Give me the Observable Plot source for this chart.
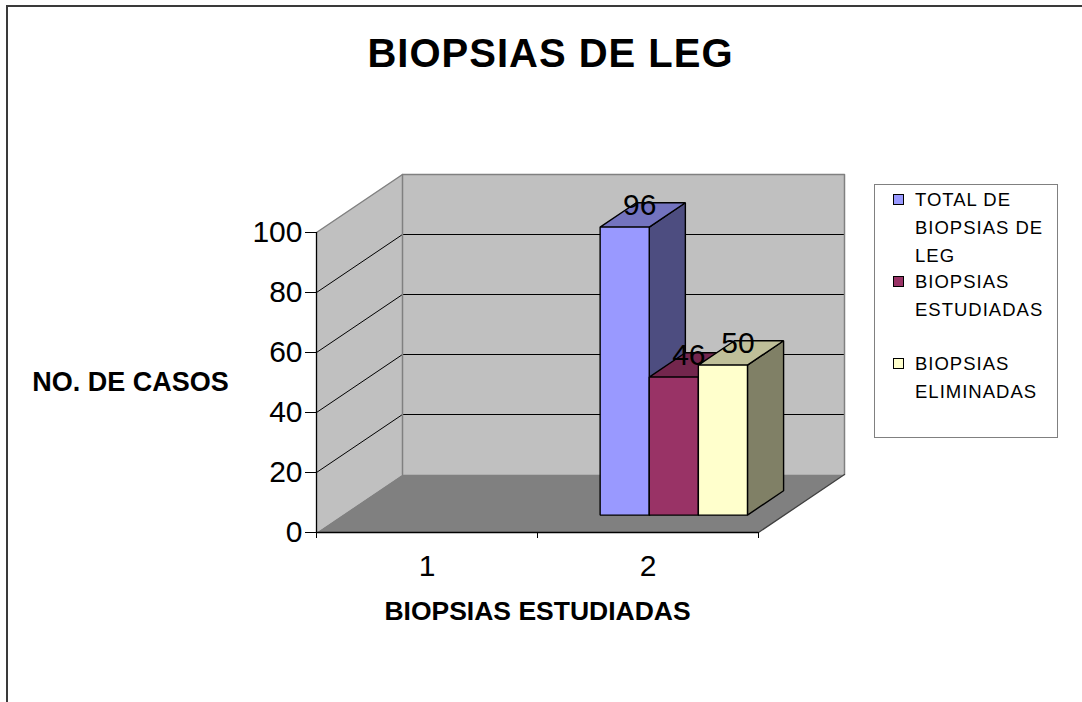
<!DOCTYPE html>
<html>
<head>
<meta charset="utf-8">
<script src="https://cdn.jsdelivr.net/npm/d3@7"></script>
<script src="https://cdn.jsdelivr.net/npm/@observablehq/plot@0.6"></script>
<style>
  body { margin: 0; background: #fff; font-family: "Liberation Sans", Arial, sans-serif; }
  #wrap { position: relative; width: 1082px; height: 702px; overflow: hidden; background: #fff; }
  #wrap svg { position: absolute; left: 0; top: 0; }
  #frame { position: absolute; left: 6px; top: 5px; width: 2000px; height: 2000px;
           border-left: 2px solid #3a3a3a; border-top: 2px solid #3a3a3a; }
  #title { position: absolute; left: 0; width: 1101px; top: 33px; text-align: center;
           font-weight: bold; font-size: 40px; line-height: 40px; letter-spacing: 1px; color: #000; }
  #legend { position: absolute; left: 874px; top: 184px; width: 184px; height: 254px;
            box-sizing: border-box; border: 1px solid #808080; background: #fff; }
  .entry { position: absolute; left: 0; width: 182px; }
  .swatch { position: absolute; left: 18px; top: 8px; width: 11px; height: 11px;
            box-sizing: border-box; border: 1px solid #000; }
  .label { position: absolute; left: 40px; width: 140px; font-size: 18.5px; line-height: 28px;
           letter-spacing: 1px; color: #000; }
</style>
</head>
<body>
<div id="wrap"></div>
<script>
// ---- data ----
const categories = ["1", "2"];
const seriesNames = ["TOTAL DE BIOPSIAS DE LEG", "BIOPSIAS ESTUDIADAS", "BIOPSIAS ELIMINADAS"];
const totalValues = [null, 96];
const studiedValues = [null, 46];
const removedValues = [null, 50];
const yTicks = [0, 20, 40, 60, 80, 100];
const titleText = "BIOPSIAS DE LEG";
const yTitle = "NO. DE CASOS";
const xTitle = "BIOPSIAS ESTUDIADAS";

// ---- style ----
const seriesColors = ["#9999FF", "#993366", "#FFFFCC"];
const seriesValues = [totalValues, studiedValues, removedValues];

const W = 1082, H = 702, mL = 316, mR = 324, mT = 232, mB = 170;
const xDom = [0.5, categories.length + 0.5];
const yMax = yTicks[yTicks.length - 1];
const pxX = (W - mL - mR) / (xDom[1] - xDom[0]);
const pxY = (H - mT - mB) / yMax;
const depthPx = [86, 58];
const P = (x, v, d) => ({x: x + d * depthPx[0] / pxX, y: v + d * depthPx[1] / pxY});
const poly = (id, fill, pts) => pts.map(([x, v, d]) => ({id, fill, ...P(x, v, d)}));
function shade(hex, k) { const c = d3.rgb(hex); return d3.rgb(c.r * k, c.g * k, c.b * k).formatHex(); }

const x0 = xDom[0], x1 = xDom[1];
const walls = [
  ...poly("back", "#C0C0C0", [[x0, 0, 1], [x1, 0, 1], [x1, yMax, 1], [x0, yMax, 1]]),
  ...poly("side", "#C0C0C0", [[x0, 0, 0], [x0, 0, 1], [x0, yMax, 1], [x0, yMax, 0]]),
  ...poly("floor", "#808080", [[x0, 0, 0], [x1, 0, 0], [x1, 0, 1], [x0, 0, 1]])
];
const grid = yTicks.filter(v => v > 0 && v < yMax)
  .flatMap(v => poly("g" + v, null, [[x0, v, 0], [x0, v, 1], [x1, v, 1]]));
const edges = [
  ...poly("e1", null, [[x0, yMax, 0], [x0, yMax, 1], [x1, yMax, 1], [x1, 0, 1]]),
  ...poly("e2", null, [[x0, 0, 1], [x0, yMax, 1]])
];
const floorEdge = poly("fe", null, [[x1, 0, 1], [x1, 0, 0]]);

const nS = seriesValues.length;
const slot = (2 / 3) / nS, hw = slot / 2;
const dF = 0.3, dB = 0.72;
const bars = [], labels = [];
categories.forEach((c, ci) => {
  seriesValues.forEach((vals, si) => {
    const v = vals[ci];
    if (v == null) return;
    const xc = ci + 1 + (si - (nS - 1) / 2) * slot;
    const col = seriesColors[si];
    const key = `${ci}-${si}`;
    bars.push(...poly(key + "s", shade(col, 0.5), [[xc + hw, 0, dF], [xc + hw, 0, dB], [xc + hw, v, dB], [xc + hw, v, dF]]));
    bars.push(...poly(key + "t", shade(col, 0.75), [[xc - hw, v, dF], [xc + hw, v, dF], [xc + hw, v, dB], [xc - hw, v, dB]]));
    bars.push(...poly(key + "f", col, [[xc - hw, 0, dF], [xc + hw, 0, dF], [xc + hw, v, dF], [xc - hw, v, dF]]));
    labels.push({...P(xc, v, (dF + dB) / 2), text: String(v)});
  });
});

const chart = Plot.plot({
  width: W, height: H,
  marginLeft: mL, marginRight: mR, marginTop: mT, marginBottom: mB,
  x: {domain: xDom},
  y: {domain: [0, yMax]},
  color: {type: "identity"},
  style: {fontFamily: "'Liberation Sans', Arial, sans-serif", background: "transparent", overflow: "visible", color: "#000"},
  marks: [
    Plot.line(walls, {x: "x", y: "y", z: "id", fill: "fill", stroke: "none", curve: "linear-closed"}),
    Plot.line(grid, {x: "x", y: "y", z: "id", stroke: "#000", strokeWidth: 1}),
    Plot.line(edges, {x: "x", y: "y", z: "id", stroke: "#808080", strokeWidth: 1.5}),
    Plot.line(floorEdge, {x: "x", y: "y", z: "id", stroke: "#404040", strokeWidth: 1.3}),
    Plot.ruleY([0], {stroke: "#000", strokeWidth: 1.3}),
    Plot.ruleX([x0], {y1: 0, y2: yMax, stroke: "#000", strokeWidth: 1.3}),
    Plot.axisY({ticks: yTicks, tickSize: 11, tickPadding: 3, fontSize: 30, label: null, stroke: "#000"}),
    Plot.axisX({ticks: d3.range(x0, x1 + 0.01, 1), tickSize: 6, tickFormat: () => "", label: null, stroke: "#000"}),
    Plot.axisX({ticks: categories.map((c, i) => i + 1), tickSize: 0, tickPadding: 22,
                tickFormat: d => categories[Math.round(d) - 1], fontSize: 30, label: null}),
    Plot.line(bars, {x: "x", y: "y", z: "id", fill: "fill", stroke: "#000", strokeWidth: 1.4,
                     strokeLinejoin: "miter", curve: "linear-closed"}),
    Plot.text(labels, {x: "x", y: "y", text: "text", fontSize: 30, lineAnchor: "bottom", dx: -3, fill: "#000"}),
    Plot.text([yTitle], {text: d => d, frameAnchor: "left", textAnchor: "middle", dx: -186, fontSize: 27, fontWeight: "bold", fill: "#000"}),
    Plot.text([xTitle], {text: d => d, frameAnchor: "bottom", textAnchor: "middle", dy: 87, fontSize: 26.5, fontWeight: "bold", fill: "#000"})
  ]
});

const wrap = document.getElementById("wrap");
wrap.appendChild(chart);

const frame = document.createElement("div");
frame.id = "frame";
wrap.appendChild(frame);

const title = document.createElement("div");
title.id = "title";
title.textContent = titleText;
wrap.appendChild(title);

const legend = document.createElement("div");
legend.id = "legend";
const entryTops = [0.5, 82.5, 164.5];
seriesNames.forEach((name, i) => {
  const e = document.createElement("div");
  e.className = "entry";
  e.style.top = entryTops[i] + "px";
  const sw = document.createElement("div");
  sw.className = "swatch";
  sw.style.background = seriesColors[i];
  const lb = document.createElement("div");
  lb.className = "label";
  lb.textContent = name;
  e.appendChild(sw);
  e.appendChild(lb);
  legend.appendChild(e);
});
wrap.appendChild(legend);
</script>
</body>
</html>
